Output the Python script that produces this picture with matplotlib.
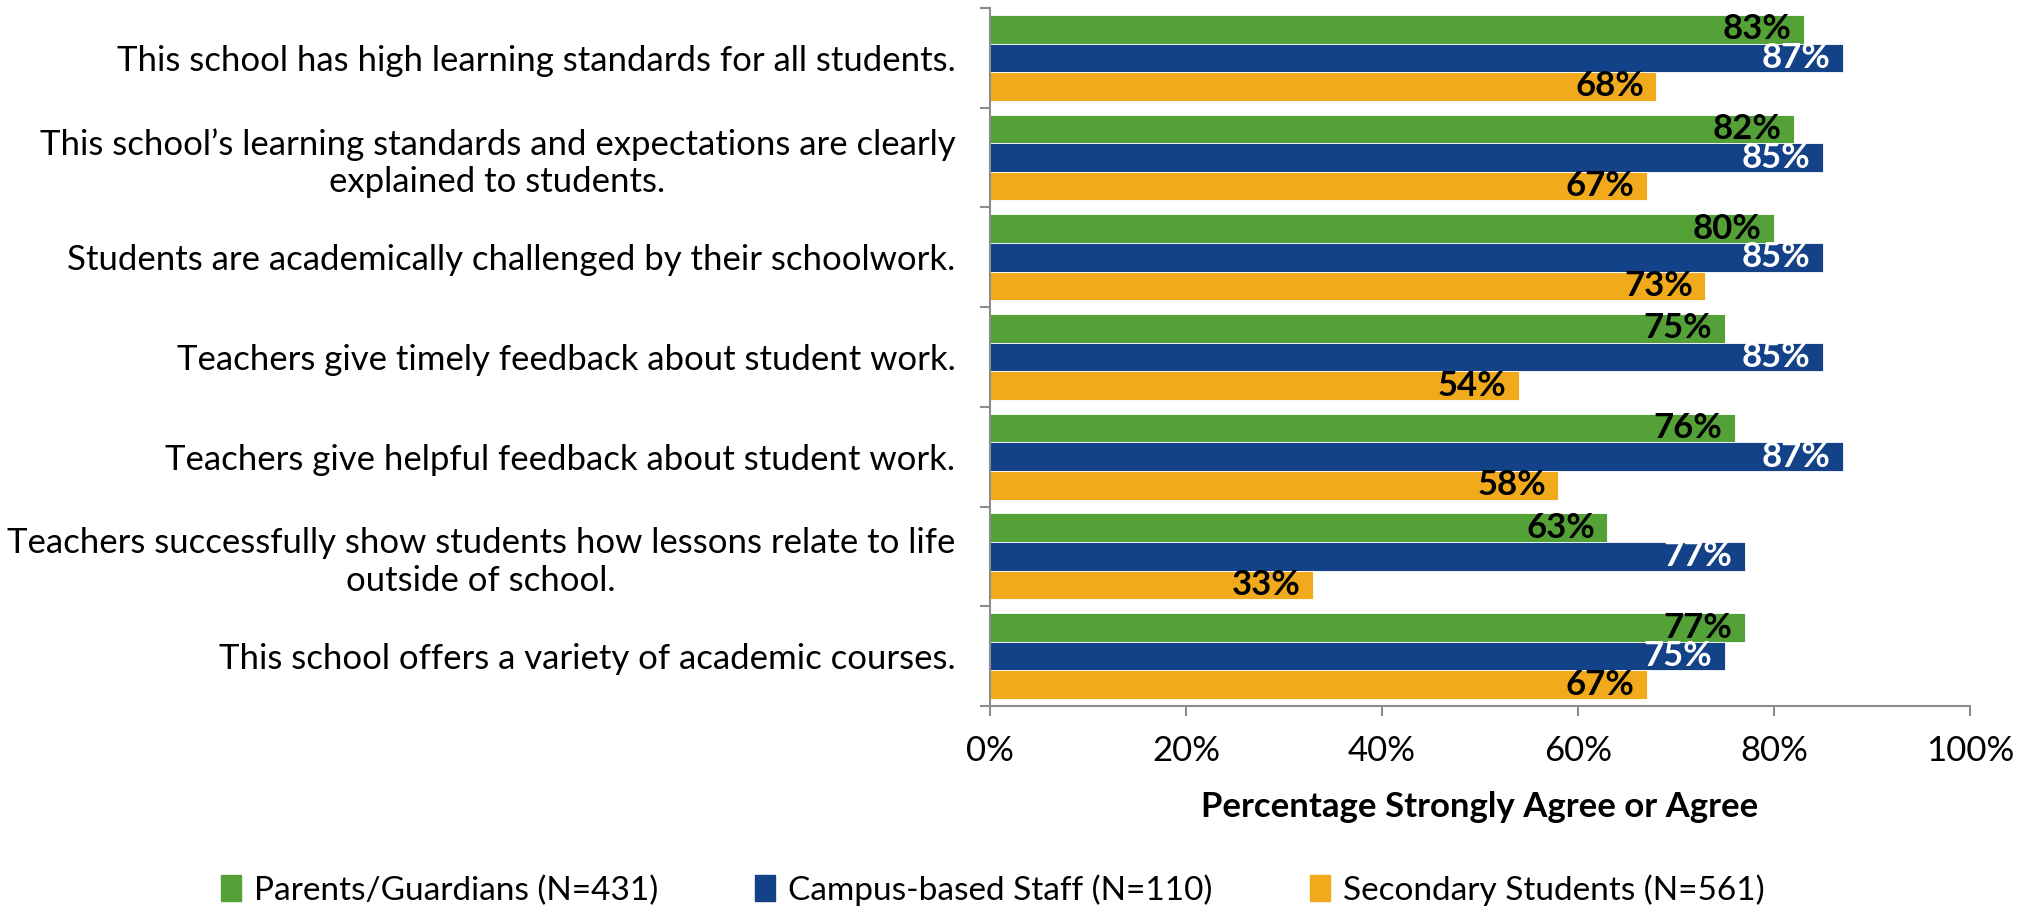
import matplotlib
matplotlib.use("Agg")
import matplotlib.pyplot as plt
from matplotlib.patches import Patch
from matplotlib.ticker import FuncFormatter

# survey statements, top to bottom
statements = [
    "This school has high learning standards for all students.",
    "This school\u2019s learning standards and expectations are clearly\nexplained to students.",
    "Students are academically challenged by their schoolwork.",
    "Teachers give timely feedback about student work.",
    "Teachers give helpful feedback about student work.",
    "Teachers successfully show students how lessons relate to life\noutside of school.",
    "This school offers a variety of academic courses.",
]
groups = ["Parents/Guardians (N=431)", "Campus-based Staff (N=110)", "Secondary Students (N=561)"]
parents = [83, 82, 80, 75, 76, 63, 77]
staff = [87, 85, 85, 85, 87, 77, 75]
students = [68, 67, 73, 54, 58, 33, 67]
xticks = [0, 20, 40, 60, 80, 100]

colors = ["#54a138", "#134289", "#f0aa1c"]
label_colors = ["black", "white", "black"]

plt.rcParams["font.family"] = ["Lato", "DejaVu Sans"]
FS = 25

fig = plt.figure(figsize=(20.3, 9.1), dpi=100)
ax = fig.add_axes([0.4877, 0.2242, 0.4828, 0.767])

bar_h = 0.287
n = len(statements)
for k, (vals, col, lcol) in enumerate(zip([parents, staff, students], colors, label_colors)):
    ys = [i + (k - 1) * bar_h for i in range(n)]
    ax.barh(ys, vals, height=bar_h, color=col, edgecolor="white", linewidth=0.6)
    for y, v in zip(ys, vals):
        ax.annotate(f"{v}%", xy=(v, y), xytext=(-9, 0), textcoords="offset points",
                    ha="right", va="center", fontsize=FS, fontweight="bold", color=lcol)

ax.set_ylim(n - 0.5, -0.5)
ax.set_xlim(0, 100)
ax.set_xticks(xticks)
ax.xaxis.set_major_formatter(FuncFormatter(lambda v, p: f"{v:.0f}%"))

# category ticks sit on group boundaries, labels in the middle
ax.set_yticks([i - 0.5 for i in range(n + 1)])
ax.set_yticklabels([])
ax.set_yticks(range(n), minor=True)
ax.set_yticklabels(statements, minor=True, fontsize=FS)
for t in ax.get_yticklabels(minor=True):
    t.set_multialignment("center")
ax.tick_params(axis="y", which="minor", length=0, pad=25)
ax.tick_params(axis="y", which="major", length=7, color="#8c8c8c", width=1.5)
ax.tick_params(axis="x", length=7, color="#8c8c8c", width=1.5, labelsize=FS, pad=14)

for s in ["top", "right"]:
    ax.spines[s].set_visible(False)
for s in ["left", "bottom"]:
    ax.spines[s].set_color("#8c8c8c")
    ax.spines[s].set_linewidth(1.5)

ax.set_xlabel("Percentage Strongly Agree or Agree", fontsize=FS, fontweight="bold", labelpad=17)

handles = [Patch(color=c) for c in colors]
fig.legend(handles, groups, loc="center", bbox_to_anchor=(0.489, 0.022), ncol=3, frameon=False,
           fontsize=24, handlelength=0.6, handleheight=0.8, handletextpad=0.4, columnspacing=2.9)

fig.savefig("out.png", dpi=100)
